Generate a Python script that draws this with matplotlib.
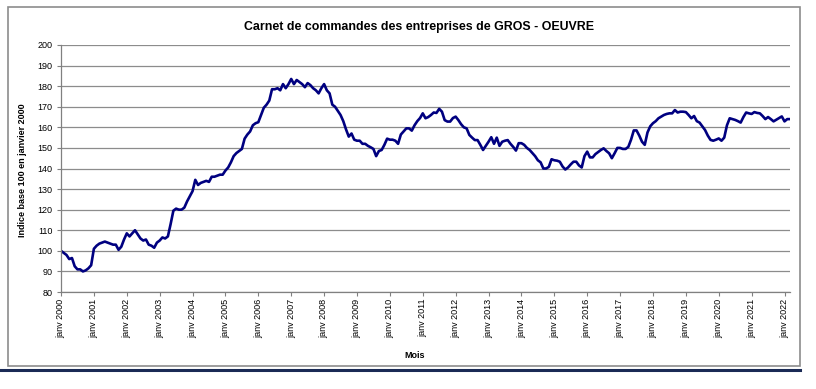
import matplotlib
matplotlib.use("Agg")
import matplotlib.pyplot as plt
from matplotlib.patches import Rectangle
from matplotlib.lines import Line2D

# monthly index, janv 2000 = 100, janv 2000 .. mars 2022
y2000 = [100, 99, 98, 96, 96.5, 92.5, 91, 91, 90, 90.5, 91.5, 93]
y2001 = [101, 102.5, 103.5, 104, 104.5, 104, 103.5, 103, 103, 100.5, 102, 105.5]
y2002 = [108.5, 107, 108.5, 110, 108, 106, 105, 105.5, 103, 102.5, 101.5, 104]
y2003 = [105, 106.5, 106, 107, 113, 119.5, 120.5, 120, 120, 121, 124, 126.5]
y2004 = [129, 134.5, 132, 133, 133.5, 134, 133.5, 136, 136, 136.5, 137, 137]
y2005 = [139, 140.5, 143, 146, 147.5, 148.5, 149.5, 154.5, 156.5, 158, 161, 162]
y2006 = [162.5, 166, 169.5, 171, 173, 178.5, 178.5, 179, 178, 181, 179, 181]
y2007 = [183.5, 181, 183, 182, 181, 179.5, 181.5, 180.5, 179, 178, 176.5, 179]
y2008 = [181, 178, 176.5, 171, 170, 168, 166, 163, 159, 155.5, 157, 154]
y2009 = [153.5, 153.5, 152, 152, 151, 150.3, 149.5, 146, 148.5, 149, 151.5, 154.5]
y2010 = [154, 154, 153.5, 152, 156.5, 158, 159.5, 159.5, 158.4, 161, 163, 164.5]
y2011 = [166.8, 164.4, 165, 166, 167.2, 167, 169, 167.6, 163.5, 162.8, 162.8, 164.5]
y2012 = [165.2, 163.5, 161.5, 160, 159.5, 156.3, 155, 153.8, 153.8, 151.5, 149, 151]
y2013 = [153, 155.2, 152, 155, 151, 153, 153.5, 153.8, 152, 150.5, 148.7, 152.3]
y2014 = [152.3, 151.5, 150, 149, 147.5, 146, 144, 143, 140, 140, 140.8, 144.5]
y2015 = [144, 143.8, 143.3, 141, 139.5, 140.5, 142, 143.3, 143.3, 141.5, 140.5, 146]
y2016 = [148.2, 145.4, 145.4, 147, 148, 149, 149.8, 148.5, 147.4, 145, 147.4, 150]
y2017 = [150, 149.5, 149.5, 150.5, 154, 158.5, 158.5, 156, 153, 151.5, 157.5, 160.5]
y2018 = [162, 163, 164.4, 165.2, 166, 166.5, 166.8, 166.8, 168.4, 167.2, 167.6, 167.6]
y2019 = [167.4, 166, 164.4, 165.5, 163, 162.3, 160.5, 158.7, 156, 153.9, 153.5, 154]
y2020 = [154.6, 153.5, 155, 161, 164.4, 164, 163.6, 163, 162.3, 165, 167.2, 166.8]
y2021 = [166.5, 167.4, 167, 166.8, 165.5, 164, 165, 164, 162.9, 163.7, 164.5, 165.3]
y2022 = [162.9, 164, 164]

values = (y2000 + y2001 + y2002 + y2003 + y2004 + y2005 + y2006 + y2007 + y2008
          + y2009 + y2010 + y2011 + y2012 + y2013 + y2014 + y2015 + y2016 + y2017
          + y2018 + y2019 + y2020 + y2021 + y2022)
years = list(range(2000, 2023))
months = list(range(len(values)))

plt.rcParams['font.family'] = ['Liberation Sans', 'DejaVu Sans']

fig = plt.figure(figsize=(8.16, 3.89), dpi=100)
ax = fig.add_axes([61 / 816, 97 / 389, 729 / 816, 247 / 389])

# chart frame and the dark rule under it
fig.patches.append(Rectangle((8 / 816, 23 / 389), 792 / 816, 359 / 389,
                             transform=fig.transFigure, fill=False,
                             edgecolor='#8c8c8c', linewidth=1.2))
fig.lines.append(Line2D([0, 800 / 816], [19.5 / 389, 19.5 / 389],
                        transform=fig.transFigure, color='#1a2a55', linewidth=2.2))

ax.plot(months, values, color='#000080', linewidth=1.9, solid_joinstyle='round')

ax.set_xlim(0, len(values) - 1)
ax.set_ylim(80, 200)
ax.set_yticks(range(80, 201, 10))
ax.set_xticks([12 * i for i in range(len(years))])
ax.set_xticklabels(['janv %d' % y for y in years], rotation=90, fontsize=6.5)
ax.tick_params(axis='y', labelsize=6.5, length=3, color='#808080', pad=3)
ax.tick_params(axis='x', length=3, color='#808080', pad=2)

ax.grid(axis='y', color='#8c8c8c', linewidth=0.9)
ax.set_axisbelow(True)
for s in ['top', 'right']:
    ax.spines[s].set_visible(False)
for s in ['left', 'bottom']:
    ax.spines[s].set_color('#808080')
    ax.spines[s].set_linewidth(0.9)

fig.text(419 / 816, 1 - 27 / 389, 'Carnet de commandes des entreprises de GROS - OEUVRE',
         ha='center', va='center', fontsize=8.9, fontweight='bold')
fig.text(23 / 816, 1 - 170 / 389, 'Indice base 100 en janvier 2000', rotation=90,
         ha='center', va='center', fontsize=6.5, fontweight='bold')
fig.text(415 / 816, 1 - 355 / 389, 'Mois', ha='center', va='center',
         fontsize=6.5, fontweight='bold')

fig.savefig('out.png', dpi=100)
